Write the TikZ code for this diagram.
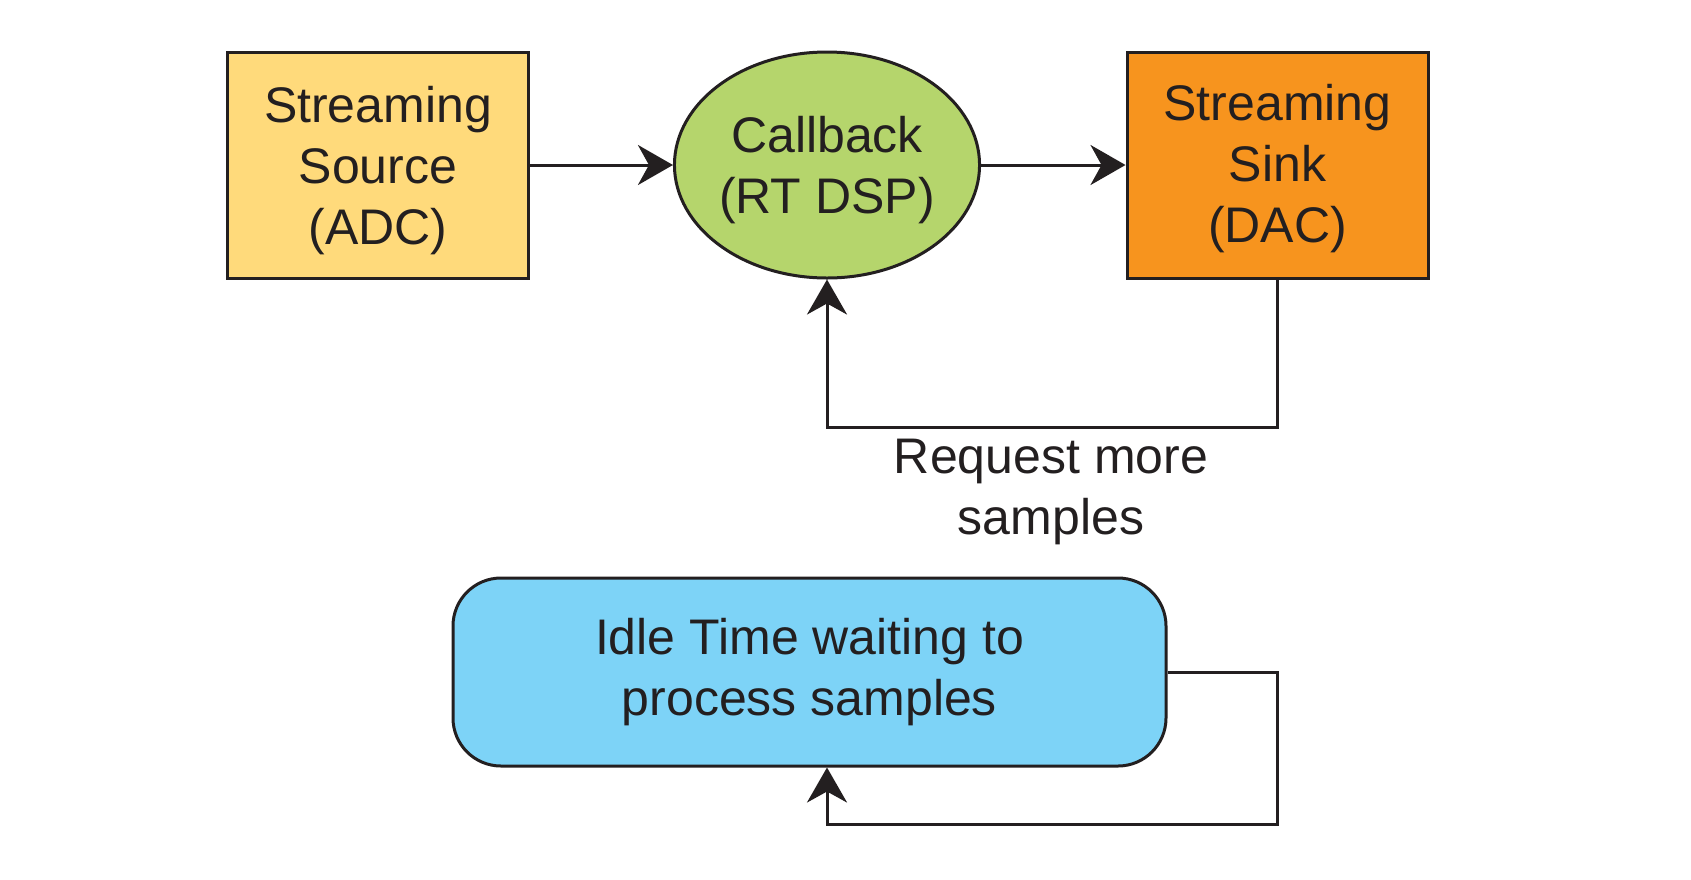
\documentclass[tikz,border=0pt]{standalone}
\usepackage{fontspec}
\setmainfont{Liberation Sans}
\usetikzlibrary{arrows.meta,shapes.geometric}
\definecolor{txt}{HTML}{231F20}
\definecolor{srcfill}{HTML}{FFDA7B}
\definecolor{cbfill}{HTML}{B5D56C}
\definecolor{sinkfill}{HTML}{F7941E}
\definecolor{idlefill}{HTML}{7DD3F7}
\tikzset{
  base/.style={draw=txt, line width=3pt, text=txt, align=center, inner sep=0pt,
    font=\fontsize{50}{61}\selectfont},
  boxnode/.style={base, rectangle, minimum width=301pt, minimum height=226pt},
  ellnode/.style={base, ellipse, minimum width=300pt, minimum height=226pt},
  idlenode/.style={base, rectangle, rounded corners=48pt, minimum width=713pt, minimum height=188pt},
  conn/.style={draw=txt, line width=3pt, -{Stealth[length=35pt,width=40pt,inset=11pt]}},
  lbl/.style={text=txt, align=center, inner sep=0pt, font=\fontsize{50}{61}\selectfont}
}
\begin{document}
\begin{tikzpicture}[x=1pt,y=-1pt]
\useasboundingbox (0,0) rectangle (1691,879);
\node[boxnode, fill=srcfill, text depth=0pt] (src) at (378,165) {Streaming\\Source\\(ADC)};
\node[ellnode, fill=cbfill, text depth=0pt] (cb) at (827,165) {Callback\\(RT DSP)};
\node[boxnode, fill=sinkfill, text depth=4pt] (sink) at (1277.5,165) {Streaming\\Sink\\(DAC)};
\node[idlenode, fill=idlefill] (idle) at (809.5,672) {Idle Time waiting to\\process samples};
\coordinate (fb1) at (1277.5,427);
\coordinate (lp1) at (1277.5,824);
\node[lbl] (req) at (1051,492) {Request more\\samples};
\draw[conn] (src) -- (cb);
\draw[conn] (cb) -- (sink);
\draw[conn] (sink.south) -- (fb1) -| (cb.south);
\draw[conn] (idle.east) -| (lp1) -| (cb.south |- idle.south);
\end{tikzpicture}
\end{document}
